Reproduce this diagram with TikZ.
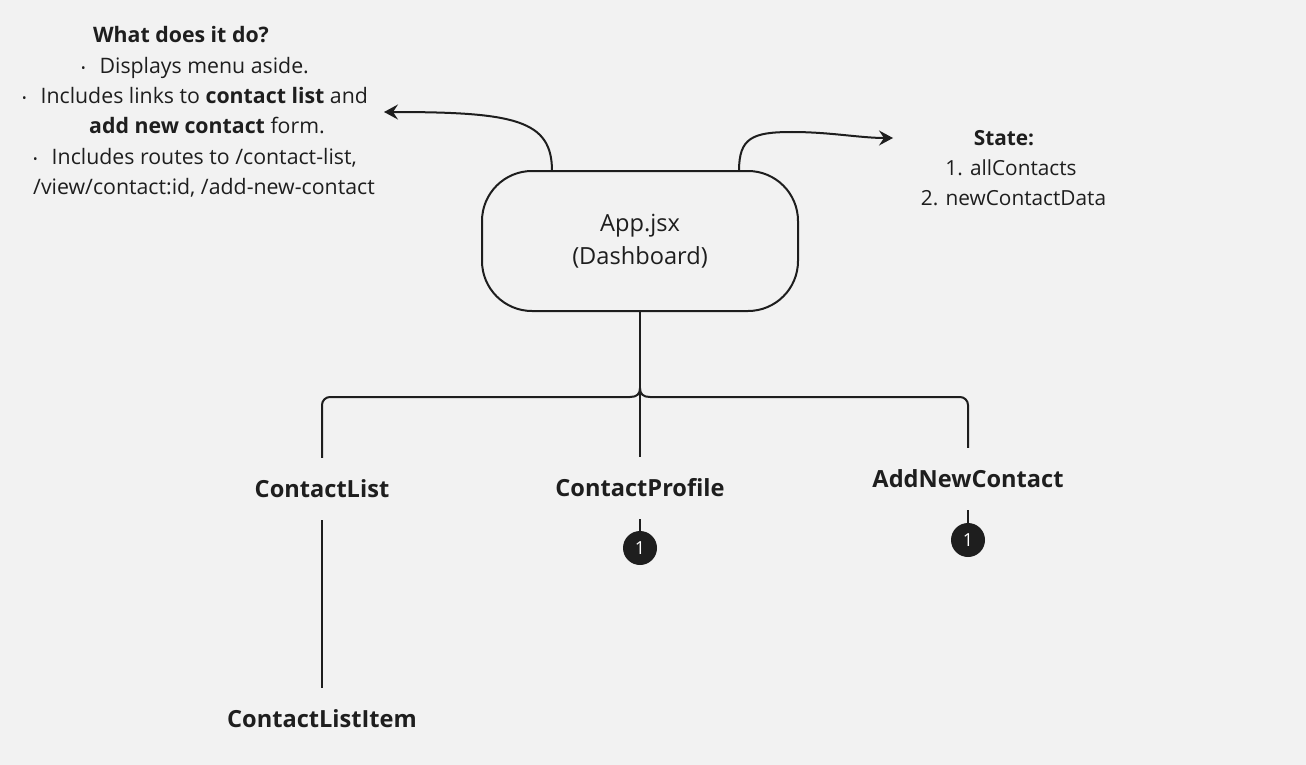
\documentclass[tikz,border=0pt]{standalone}
\usepackage{fontspec}
\setmainfont{Open Sans}
\usetikzlibrary{arrows.meta}
\definecolor{bg}{HTML}{F2F2F2}
\definecolor{ink}{HTML}{1E1E1E}
\newcommand{\bul}{{\fontsize{12}{12}\selectfont\raisebox{1pt}{•}}\hspace{14pt}}
\begin{document}
\begin{tikzpicture}[x=1pt,y=-1pt,
  line/.style={draw=ink,line width=2pt},
  arr/.style={line/.try,-{Stealth[length=14pt,width=15pt,inset=5pt]}},
  body/.style={text=ink,font=\fontsize{21.3}{30.4}\selectfont,align=center,inner sep=0pt},
  comp/.style={text=ink,font=\fontsize{23.6}{28}\selectfont\bfseries,inner sep=0pt,minimum height=62pt},
  badge/.style={circle,fill=ink,text=white,inner sep=0pt,minimum size=34pt,font=\fontsize{18}{18}\selectfont},
]
\fill[bg] (0,0) rectangle (1306,765);
\useasboundingbox (0,0) rectangle (1306,765);

\node[line,rounded corners=50pt,minimum width=316pt,minimum height=140pt,
  text=ink,font=\fontsize{23.6}{33}\selectfont,align=center,inner sep=0pt] (app) at (640,241) {App.jsx\\(Dashboard)};

\node[body] (what) at (195,112) {\textbf{What does it do?}\hspace{28pt}\mbox{}\\
\bul Displays menu aside.\\
\bul Includes links to \textbf{contact list} and\\
\hspace{24pt}\textbf{add new contact} form.\\
\bul Includes routes to /contact-list,\\
\hspace{18pt}/view/contact:id, /add-new-contact};

\node[body,font=\fontsize{20.8}{30}\selectfont] (state) at (1011,168) {\textbf{State:}\hspace{14pt}\mbox{}\\
1. allContacts\\
\hspace{5pt}2. newContactData};

\coordinate (wtip) at (384,112);
\coordinate (stip) at (893,138);
\coordinate (a1) at (552,171);
\coordinate (a2) at (739,171);
\draw[arr] (a1) .. controls (552,120) and (515,112) .. (wtip);
\draw[arr] (a2) .. controls (739,138) and (752,132) .. (792,132) .. controls (830,132) and (860,138) .. (stip);

\node[comp] (cl) at (322,489) {ContactList};
\node[comp] (cp) at (640,488) {ContactProfile};
\node[comp] (an) at (968,479) {AddNewContact};
\node[comp] (cli) at (322,719) {ContactListItem};
\node[badge] (b1) at (640,548) {1};
\node[badge] (b2) at (968,540) {1};

\coordinate (jl) at (630,397);
\coordinate (jr) at (650,397);
\coordinate (jt) at (640,388);
\draw[line] (app.south) -- (cp.north);
\draw[line,rounded corners=8pt] (cl.north) |- (jl);
\draw[line] (jl) .. controls (637,397) and (640,394) .. (jt);
\draw[line,rounded corners=8pt] (an.north) |- (jr);
\draw[line] (jr) .. controls (643,397) and (640,394) .. (jt);
\draw[line] (cl.south) -- (cli.north);
\draw[line] (cp.south) -- (b1.north);
\draw[line] (an.south) -- (b2.north);
\end{tikzpicture}
\end{document}
